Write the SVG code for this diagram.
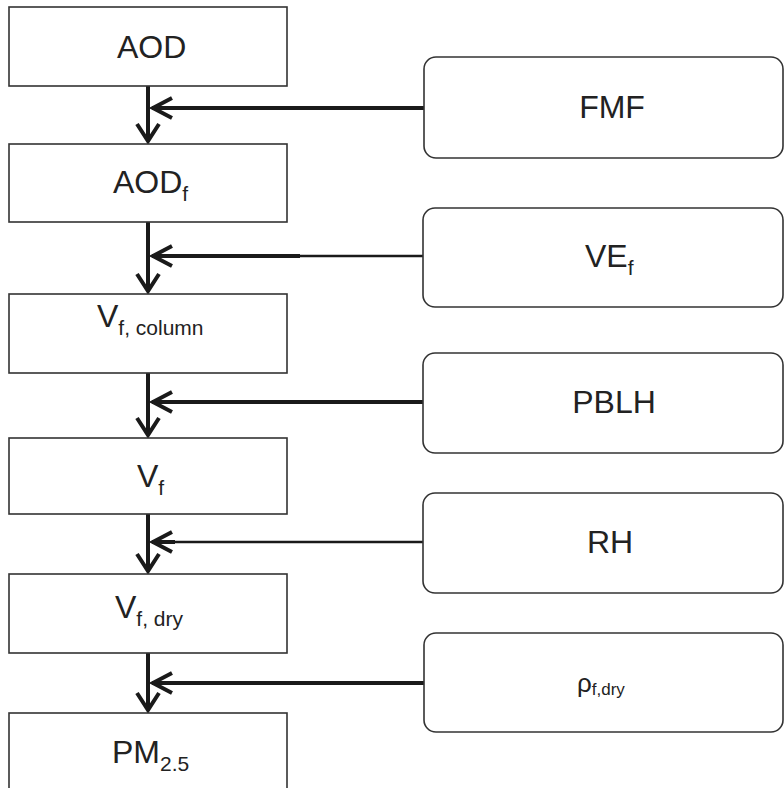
<svg xmlns="http://www.w3.org/2000/svg" width="784" height="788" viewBox="0 0 784 788">
<style>
.box{fill:#fff;stroke:#333;stroke-width:1.6}
.rbox{fill:#fff;stroke:#333;stroke-width:1.6}
.t{font-family:"Liberation Sans",Arial,sans-serif;font-size:32px;fill:#222}
.s{font-size:21px}
.ln{fill:none;stroke:#1a1a1a;stroke-width:4}
.thin{fill:none;stroke:#1a1a1a;stroke-width:2.5}
.ah{fill:none;stroke:#1a1a1a;stroke-width:4;stroke-linejoin:miter;stroke-miterlimit:10}
</style>
<rect width="784" height="788" fill="#fff"/>
<g id="connectors">
<line class="ln" x1="148" y1="86" x2="148" y2="141"/>
<polyline class="ah" points="137,124 148,141 159,124"/>
<line class="ln" x1="152" y1="108" x2="424" y2="108"/>
<polyline class="ah" points="172,98 153,108 172,118"/>

<line class="ln" x1="148" y1="222" x2="148" y2="291"/>
<polyline class="ah" points="137,274 148,291 159,274"/>
<line class="ln" x1="152" y1="256" x2="300" y2="256"/>
<line class="thin" x1="298" y1="256" x2="424" y2="256"/>
<polyline class="ah" points="172,246 153,256 172,266"/>

<line class="ln" x1="148" y1="373" x2="148" y2="435"/>
<polyline class="ah" points="137,418 148,435 159,418"/>
<line class="ln" x1="152" y1="402" x2="424" y2="402"/>
<polyline class="ah" points="172,392 153,402 172,412"/>

<line class="ln" x1="148" y1="514" x2="148" y2="571"/>
<polyline class="ah" points="137,554 148,571 159,554"/>
<line class="thin" x1="152" y1="542" x2="424" y2="542"/>
<line class="ln" x1="152" y1="542" x2="175" y2="542"/>
<polyline class="ah" points="172,532 153,542 172,552"/>

<line class="ln" x1="148" y1="653" x2="148" y2="710"/>
<polyline class="ah" points="137,693 148,710 159,693"/>
<line class="ln" x1="152" y1="683" x2="424" y2="683"/>
<polyline class="ah" points="172,673 153,683 172,693"/>
</g>
<g id="aod">
<rect class="box" x="9" y="7" width="278" height="79"/>
<text class="t" x="117" y="58">AOD</text>
</g>
<g id="aodf">
<rect class="box" x="9" y="144" width="278" height="78"/>
<text class="t" x="113" y="193">AOD<tspan class="s" dy="8">f</tspan></text>
</g>
<g id="vfcolumn">
<rect class="box" x="9" y="294" width="278" height="79"/>
<text class="t" x="97" y="327">V<tspan class="s" dy="8">f, column</tspan></text>
</g>
<g id="vf">
<rect class="box" x="9" y="438" width="278" height="76"/>
<text class="t" x="137" y="487">V<tspan class="s" dy="8">f</tspan></text>
</g>
<g id="vfdry">
<rect class="box" x="9" y="574" width="278" height="79"/>
<text class="t" x="115" y="618">V<tspan class="s" dy="8">f, dry</tspan></text>
</g>
<g id="pm25">
<rect class="box" x="9" y="713" width="278" height="90"/>
<text class="t" x="112" y="763">PM<tspan class="s" dy="8">2.5</tspan></text>
</g>
<g id="fmf">
<rect class="rbox" x="424" y="57" width="359" height="101" rx="12" ry="12"/>
<text class="t" x="612" y="118" text-anchor="middle">FMF</text>
</g>
<g id="vef">
<rect class="rbox" x="423" y="208" width="360" height="99" rx="12" ry="12"/>
<text class="t" x="585" y="267">VE<tspan class="s" dy="8">f</tspan></text>
</g>
<g id="pblh">
<rect class="rbox" x="423" y="353" width="360" height="100" rx="12" ry="12"/>
<text class="t" x="614" y="413" text-anchor="middle">PBLH</text>
</g>
<g id="rh">
<rect class="rbox" x="423" y="493" width="360" height="100" rx="12" ry="12"/>
<text class="t" x="610" y="553" text-anchor="middle">RH</text>
</g>
<g id="rho">
<rect class="rbox" x="424" y="633" width="359" height="99" rx="12" ry="12"/>
<text class="t" x="577" y="692" style="font-size:26px">ρ<tspan style="font-size:17px" dy="3">f,dry</tspan></text>
</g>
</svg>
